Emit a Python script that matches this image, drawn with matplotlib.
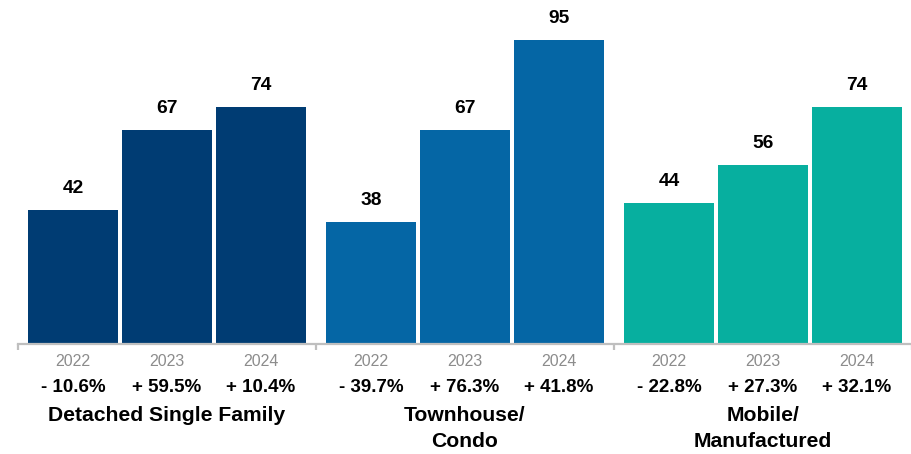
import matplotlib
matplotlib.use("Agg")
from matplotlib import pyplot as plt

# Dados do grafico
categorias = ["Detached Single Family", "Townhouse/\nCondo", "Mobile/\nManufactured"]
anos = ["2022", "2023", "2024"]
valores = [
    [42, 67, 74],
    [38, 67, 95],
    [44, 56, 74],
]
variacoes = [
    ["- 10.6%", "+ 59.5%", "+ 10.4%"],
    ["- 39.7%", "+ 76.3%", "+ 41.8%"],
    ["- 22.8%", "+ 27.3%", "+ 32.1%"],
]
cores = ["#003C73", "#0566A5", "#07AF9F"]

plt.rcParams["font.family"] = ["Liberation Sans", "DejaVu Sans"]

largura_grupo = 298 / 94  # largura de cada grupo em unidades de barra
cinza = "#BFBFBF"

fig = plt.figure(figsize=(9.12, 4.54), dpi=100)
ax = fig.add_axes([18 / 912, 110 / 454, 894 / 912, 344 / 454])

for g in range(len(categorias)):
    centro = g * largura_grupo
    for j in range(len(anos)):
        x = centro + (j - 1)
        v = valores[g][j]
        ax.bar(x, v, width=0.947, color=cores[g], zorder=2)
        ax.annotate(str(v), (x, v), xytext=(0, 21.5), textcoords="offset pixels",
                    ha="center", va="center", fontsize=13.8, fontweight="bold",
                    color="#000000")
        ax.annotate(anos[j], (x, 0), xytext=(0, -17), textcoords="offset pixels",
                    ha="center", va="center", fontsize=11.5, color="#8C8C8C",
                    annotation_clip=False)
        ax.annotate(variacoes[g][j], (x, 0), xytext=(0, -43), textcoords="offset pixels",
                    ha="center", va="center", fontsize=13.5, fontweight="bold",
                    color="#000000", annotation_clip=False)
    ax.annotate(categorias[g], (centro, 0), xytext=(0, -62), textcoords="offset pixels",
                ha="center", va="top", fontsize=15.2, fontweight="bold",
                color="#000000", linespacing=1.45, annotation_clip=False)

ax.set_xlim(-largura_grupo / 2, 2.5 * largura_grupo)
ax.set_ylim(0, 344 / 3.2)

for lado in ["top", "right", "left"]:
    ax.spines[lado].set_visible(False)
ax.spines["bottom"].set_color(cinza)
ax.spines["bottom"].set_linewidth(1.6)
ax.set_yticks([])
ax.set_xticks([-largura_grupo / 2 + k * largura_grupo for k in range(4)])
ax.set_xticklabels([])
ax.tick_params(axis="x", direction="out", length=4.5, width=1.6, color=cinza)

fig.savefig("out.png", dpi=100)
